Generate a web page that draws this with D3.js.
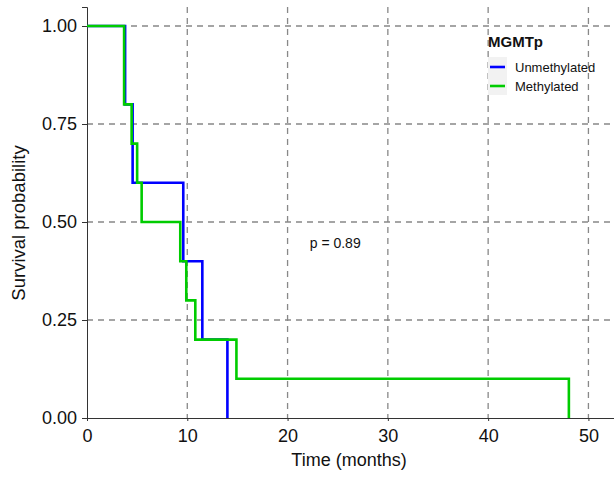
<!DOCTYPE html>
<html>
<head>
<meta charset="utf-8">
<script src="https://cdn.jsdelivr.net/npm/d3@7"></script>
<style>
  body { margin: 0; background: #fff; }
  text { font-family: "Liberation Sans", Arial, sans-serif; }
</style>
</head>
<body>
<div id="chart"></div>
<script>
// Kaplan-Meier step points: [time, survival]
const unmethylated = [[0, 1], [3.8, 0.8], [4.55, 0.6], [9.6, 0.4], [11.5, 0.2], [14.0, 0]];
const methylated = [[0, 1], [3.7, 0.8], [4.45, 0.7], [5.0, 0.6], [5.45, 0.5], [9.3, 0.4],
  [9.9, 0.3], [10.8, 0.2], [14.9, 0.1], [48.05, 0]];
const groups = ["Unmethylated", "Methylated"];
const colors = ["#0000ff", "#00cc00"];
const xTicks = [0, 10, 20, 30, 40, 50];
const yTicks = [0, 0.25, 0.5, 0.75, 1];
const pText = "p = 0.89";

const W = 614, H = 479;
const margin = { top: 7, right: 0, bottom: 61, left: 87 };
const width = W - margin.left - margin.right;
const height = H - margin.top - margin.bottom;

const svg = d3.select("#chart").append("svg")
  .attr("width", W).attr("height", H);
const g = svg.append("g").attr("transform", `translate(${margin.left},${margin.top})`);

const x = d3.scaleLinear().domain([0, 52.55]).range([0, width]);
const y = d3.scaleLinear().domain([0, 1.0485]).range([height, 0]);

// grid
g.append("g").selectAll("line").data(xTicks.filter(d => d > 0)).enter().append("line")
  .attr("x1", d => x(d)).attr("x2", d => x(d)).attr("y1", 0).attr("y2", height)
  .attr("stroke", "#888").attr("stroke-width", 1.3).attr("stroke-dasharray", "6,5");
g.append("g").selectAll("line").data(yTicks.filter(d => d > 0)).enter().append("line")
  .attr("x1", 0).attr("x2", width).attr("y1", d => y(d)).attr("y2", d => y(d))
  .attr("stroke", "#888").attr("stroke-width", 1.3).attr("stroke-dasharray", "6,5");

// axes
const xAxis = g.append("g").attr("transform", `translate(0,${height})`)
  .call(d3.axisBottom(x).tickValues(xTicks).tickSize(3).tickPadding(8.5));
const yAxis = g.append("g")
  .call(d3.axisLeft(y).tickValues(yTicks).tickFormat(d3.format(".2f")).tickSize(5).tickPadding(5));
[xAxis, yAxis].forEach(a => {
  a.select(".domain").attr("stroke", "#333").attr("stroke-width", 1);
  a.selectAll(".tick line").attr("stroke", "#333");
  a.selectAll(".tick text").attr("font-size", 18).attr("fill", "#111")
    .style("font-family", "'Liberation Sans', Arial, sans-serif");
});

// curves
const line = d3.line().x(d => x(d[0])).y(d => y(d[1])).curve(d3.curveStepAfter);
[unmethylated, methylated].forEach((data, i) => {
  g.append("path").datum(data).attr("d", line)
    .attr("fill", "none").attr("stroke", colors[i]).attr("stroke-width", 2.6);
});

// p-value
g.append("text").attr("x", x(24.75)).attr("y", 241)
  .attr("text-anchor", "middle").attr("font-size", 14).attr("fill", "#111").text(pText);

// axis titles
svg.append("text").attr("x", 349).attr("y", 466)
  .attr("text-anchor", "middle").attr("font-size", 18).attr("fill", "#111").text("Time (months)");
svg.append("text").attr("transform", `translate(25,223) rotate(-90)`)
  .attr("text-anchor", "middle").attr("font-size", 18.5).attr("fill", "#111").text("Survival probability");

// legend
const lg = svg.append("g").attr("transform", "translate(488,0)");
lg.append("text").attr("x", 0).attr("y", 47).attr("font-size", 15).attr("font-weight", "bold")
  .attr("fill", "#111").text("MGMTp");
lg.append("rect").attr("x", 0).attr("y", 57).attr("width", 19).attr("height", 38).attr("fill", "#f2f2f2");
groups.forEach((name, i) => {
  const cy = 67 + i * 19;
  lg.append("line").attr("x1", 2).attr("x2", 17).attr("y1", cy).attr("y2", cy)
    .attr("stroke", colors[i]).attr("stroke-width", 2.6);
  lg.append("text").attr("x", 27).attr("y", cy + 5).attr("font-size", 13).attr("fill", "#111").text(name);
});
</script>
</body>
</html>
